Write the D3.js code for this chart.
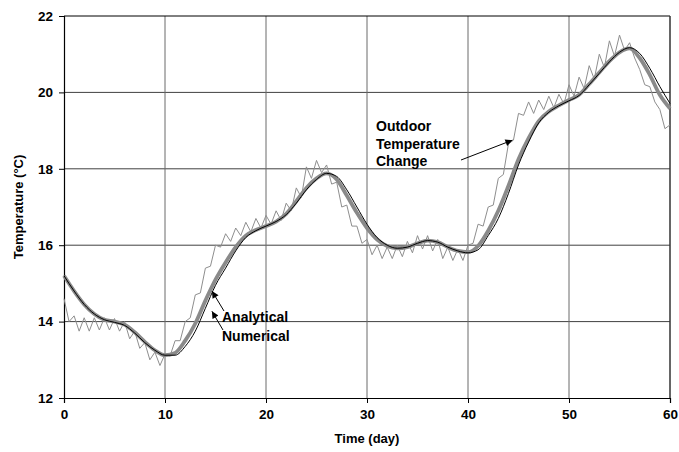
<!DOCTYPE html>
<html><head><meta charset="utf-8">
<script src="https://cdn.jsdelivr.net/npm/d3@7"></script>
<style>
html,body{margin:0;padding:0;background:#fff;}
svg{display:block;}
text{font-family:Arial,"Liberation Sans",sans-serif;font-weight:bold;fill:#000;}
</style></head>
<body>
<svg id="chart" width="679" height="452"></svg>
<script>
// ---- data ----
const xTicks = [0, 10, 20, 30, 40, 50, 60];
const yTicks = [12, 14, 16, 18, 20, 22];
const xLabel = "Time (day)";
const yLabel = "Temperature (\u00B0C)";

// smooth curves, one value per day (day 0..60)
const days = d3.range(0, 61);
const analytical = [15.2,14.8,14.45,14.2,14.05,14.0,13.92,13.72,13.47,13.25,
  13.12,13.18,13.5,13.95,14.55,15.1,15.55,15.95,16.25,16.4,
  16.5,16.62,16.82,17.15,17.5,17.75,17.88,17.72,17.3,16.85,
  16.45,16.15,15.98,15.92,15.95,16.05,16.12,16.08,15.95,15.85,
  15.82,15.98,16.38,16.9,17.55,18.25,18.8,19.25,19.5,19.66,
  19.8,19.94,20.22,20.52,20.82,21.05,21.15,20.9,20.46,19.93,19.58];
const numerical = [15.2,14.8,14.45,14.2,14.05,13.98,13.9,13.7,13.45,13.25,
  13.12,13.12,13.35,13.75,14.35,14.95,15.4,15.85,16.2,16.38,
  16.5,16.62,16.8,17.1,17.45,17.72,17.88,17.8,17.45,17.0,
  16.55,16.2,16.0,15.92,15.95,16.05,16.12,16.08,15.95,15.85,
  15.8,15.88,16.25,16.7,17.35,18.1,18.7,19.2,19.48,19.65,
  19.78,19.92,20.2,20.5,20.8,21.05,21.17,21.02,20.63,20.15,19.71];

// outdoor temperature, one value every half day (day 0, 0.5, ..., 60)
const halfDays = d3.range(0, 121).map(i => i / 2);
const outdoor = [14.6,14.0,14.15,13.75,14.1,13.75,14.1,13.78,14.1,13.78,
  14.08,13.75,14.0,13.55,13.75,13.3,13.45,13.0,13.2,12.85,
  13.15,13.1,13.5,13.5,14.0,14.1,14.7,14.75,15.4,15.45,
  16.0,15.95,16.3,16.1,16.45,16.25,16.6,16.35,16.7,16.45,
  16.78,16.55,16.9,16.65,17.1,16.9,17.5,17.25,18.05,17.75,
  18.22,17.9,18.1,17.6,17.65,17.0,17.05,16.5,16.5,16.05,
  16.15,15.75,16.0,15.65,15.95,15.65,16.0,15.7,16.1,15.8,
  16.25,15.9,16.25,15.85,16.15,15.65,15.95,15.6,15.9,15.6,
  16.0,16.05,16.55,16.5,17.0,17.05,17.75,17.85,18.65,18.75,
  19.45,19.4,19.75,19.45,19.8,19.55,19.9,19.6,19.95,19.7,
  20.2,19.9,20.4,20.1,20.7,20.35,21.0,20.65,21.35,20.95,
  21.5,21.1,21.3,20.9,20.6,20.2,20.15,19.75,19.55,19.05,19.15];

// annotations: text and the data point each arrow points at
const annOutdoor = {lines:["Outdoor","Temperature","Change"], tip:[44.4, 18.75]};
const annAnalytical = {text:"Analytical", tip:[14.5, 14.8]};
const annNumerical = {text:"Numerical", tip:[14.5, 14.27]};

// ---- chart ----
const svg = d3.select("#chart");
const L = 64, R = 670, T = 16, B = 398;
const x = d3.scaleLinear().domain([0, 60]).range([L, R]);
const y = d3.scaleLinear().domain([12, 22]).range([B, T]);

svg.append("defs").append("marker")
  .attr("id","arr").attr("viewBox","0 0 10 10").attr("refX",10).attr("refY",5)
  .attr("markerWidth",8).attr("markerHeight",7).attr("markerUnits","userSpaceOnUse")
  .attr("orient","auto")
  .append("path").attr("d","M0,0 L10,5 L0,10 z").attr("fill","#000");

// gridlines
svg.append("g").selectAll("line").data(yTicks.filter(v => v > 12 && v < 22)).join("line")
  .attr("x1", L).attr("x2", R).attr("y1", d => y(d)).attr("y2", d => y(d))
  .attr("stroke", "#404040").attr("stroke-width", 1);
svg.append("g").selectAll("line").data(xTicks.filter(v => v > 0 && v < 60)).join("line")
  .attr("x1", d => x(d)).attr("x2", d => x(d)).attr("y1", T).attr("y2", B)
  .attr("stroke", "#6a6a6a").attr("stroke-width", 1);

// frame top/right
svg.append("line").attr("x1", L).attr("x2", R).attr("y1", T).attr("y2", T).attr("stroke", "#000");
svg.append("line").attr("x1", R).attr("x2", R).attr("y1", T).attr("y2", B).attr("stroke", "#333").attr("stroke-width", 1.5);

// axes
const xAxis = d3.axisBottom(x).tickValues(xTicks).tickSize(5).tickPadding(6).tickFormat(d3.format("d"));
const yAxis = d3.axisLeft(y).tickValues(yTicks).tickSize(5).tickPadding(6).tickFormat(d3.format("d"));
const gx = svg.append("g").attr("transform", `translate(0,${B})`).call(xAxis);
const gy = svg.append("g").attr("transform", `translate(${L},0)`).call(yAxis);
[gx, gy].forEach(g => {
  g.select(".domain").attr("stroke", "#000").attr("stroke-width", 1.2);
  g.selectAll(".tick line").attr("stroke", "#000");
  g.selectAll(".tick text").attr("font-size", 13.5).attr("font-weight", "bold")
    .attr("font-family", "Arial, 'Liberation Sans', sans-serif").attr("fill", "#000");
});

// series
const lineOut = d3.line().x((d, i) => x(halfDays[i])).y(d => y(d));
const lineSmooth = d3.line().x((d, i) => x(days[i])).y(d => y(d)).curve(d3.curveMonotoneX);
svg.append("path").datum(outdoor).attr("d", lineOut)
  .attr("fill", "none").attr("stroke", "#8e8e8e").attr("stroke-width", 1);
svg.append("path").datum(analytical).attr("d", lineSmooth)
  .attr("fill", "none").attr("stroke", "#8a8a8a").attr("stroke-width", 3.8);
svg.append("path").datum(numerical).attr("d", lineSmooth)
  .attr("fill", "none").attr("stroke", "#000").attr("stroke-width", 1);

// axis titles
svg.append("text").attr("x", (L + R) / 2).attr("y", 443).attr("text-anchor", "middle")
  .attr("font-size", 13).text(xLabel);
svg.append("text").attr("transform", `translate(23,${(T + B) / 2}) rotate(-90)`)
  .attr("text-anchor", "middle").attr("font-size", 13).text(yLabel);

// annotations
const ta = svg.append("text").attr("x", 376).attr("y", 131).attr("font-size", 14);
annOutdoor.lines.forEach((s, i) => ta.append("tspan").attr("x", 376).attr("dy", i ? 17.5 : 0).text(s));
svg.append("line").attr("x1", 461).attr("y1", 160).attr("x2", x(annOutdoor.tip[0])).attr("y2", y(annOutdoor.tip[1]))
  .attr("stroke", "#000").attr("stroke-width", 1).attr("marker-end", "url(#arr)");

svg.append("text").attr("x", 222).attr("y", 321.5).attr("font-size", 14).text(annAnalytical.text);
svg.append("text").attr("x", 222).attr("y", 341).attr("font-size", 14).text(annNumerical.text);
svg.append("line").attr("x1", 224).attr("y1", 311).attr("x2", x(annAnalytical.tip[0]) + 1.5).attr("y2", y(annAnalytical.tip[1]))
  .attr("stroke", "#000").attr("stroke-width", 1).attr("marker-end", "url(#arr)");
svg.append("line").attr("x1", 223).attr("y1", 330).attr("x2", x(annNumerical.tip[0]) + 1.5).attr("y2", y(annNumerical.tip[1]))
  .attr("stroke", "#000").attr("stroke-width", 1).attr("marker-end", "url(#arr)");
</script>
</body></html>
